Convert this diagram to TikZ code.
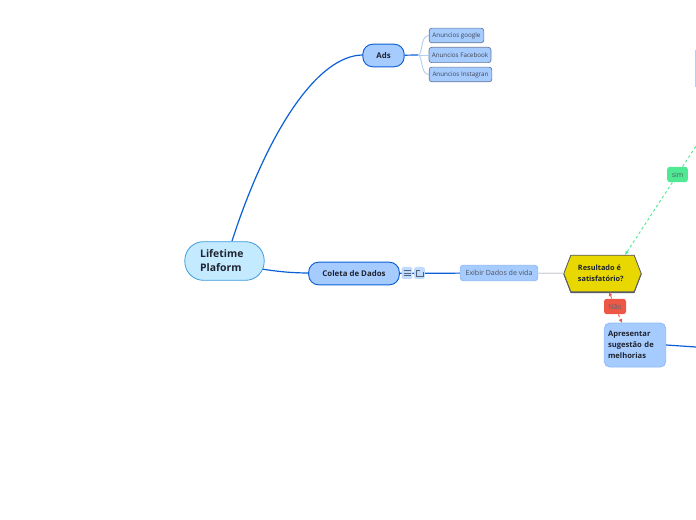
\documentclass[tikz,border=0pt]{standalone}
\usepackage{fontspec}
\setmainfont{Open Sans}
\usepackage{xcolor}
\usetikzlibrary{arrows.meta,shapes.symbols,shadows}
\definecolor{rootfill}{HTML}{C4EAFF}
\definecolor{rootline}{HTML}{3D9BDC}
\definecolor{topicfill}{HTML}{A6CBFF}
\definecolor{topicline}{HTML}{0A5FD6}
\definecolor{softline}{HTML}{8DB9F7}
\definecolor{leafline}{HTML}{66799B}
\definecolor{twig}{HTML}{B5CDF2}
\definecolor{grayline}{HTML}{D4D6D9}
\definecolor{yes}{HTML}{4FE893}
\definecolor{nope}{HTML}{EC5746}
\definecolor{quest}{HTML}{E8D800}
\definecolor{ink}{HTML}{1F2430}
\tikzset{
  rootbox/.style={draw=rootline, fill=rootfill, line width=0.6pt, rounded corners=14pt, text=ink, font=\bfseries\fontsize{7.8}{10.6}\selectfont, align=left, inner xsep=11.5pt, inner ysep=0pt, text width=36.5pt},
  topic/.style={draw=topicline, fill=topicfill, line width=0.7pt, rounded corners=7.5pt, text=ink, font=\bfseries\fontsize{5.9}{8}\selectfont, inner sep=0pt},
  leaf/.style={draw=leafline, fill=topicfill, line width=0.5pt, rounded corners=2pt, text=ink!85, font=\fontsize{4.7}{6}\selectfont, inner sep=0pt},
  linkbox/.style={draw=softline, fill=topicfill, line width=0.6pt, rounded corners=2pt, text=ink!80, font=\fontsize{5.3}{7}\selectfont, inner sep=0pt},
  ask/.style={shape=signal, signal to=east and west, signal pointer angle=138, draw=ink!75, fill=quest, line width=0.6pt, text=ink, font=\bfseries\fontsize{5.5}{8}\selectfont, align=left, inner sep=0pt, copy shadow={shadow xshift=0pt, shadow yshift=-0.6pt, draw=ink!75, fill=ink!75}},
  tag/.style={rounded corners=2pt, font=\fontsize{5.2}{6}\selectfont, inner sep=0pt},
  iconbox/.style={fill=topicfill!70, rounded corners=1.5pt, minimum width=8pt, minimum height=9pt, inner sep=0pt},
  bluelink/.style={draw=topicline, line width=0.9pt},
  twiglink/.style={draw=twig, line width=0.7pt},
  yeslink/.style={draw=yes, line width=0.7pt, dash pattern=on 2pt off 2pt},
  nolink/.style={draw=nope, line width=0.7pt, dash pattern=on 2pt off 2pt},
  glyph/.style={draw=leafline!80!black, line width=0.5pt}
}
\begin{document}
\begin{tikzpicture}[x=0.75pt,y=-0.75pt]
  \useasboundingbox (0,0) rectangle (696,520);

  % links first, boxes go on top
  \coordinate (rootN) at (232,241);
  \coordinate (rootE) at (262,269);
  \coordinate (adsW) at (363,55);
  \coordinate (fork) at (418,55);
  \coordinate (edgeY) at (696,146);
  \coordinate (edgeB) at (696,347);
  \coordinate (edgeT) at (695,50);
  \coordinate (edgeU) at (695,87);
  \coordinate (askNE) at (625,255);
  \coordinate (askS) at (609,292);
  \coordinate (melN) at (622,323);

  \draw[bluelink] (rootN) .. controls (268,130) and (318,55) .. (adsW);
  \draw[bluelink] (rootE) .. controls (280,272) and (295,273) .. (309,273);
  \draw[twiglink] (edgeT) -- (edgeU);

  % central nodes
  \node[rootbox, minimum height=29pt] (root) at (224.5,261) {Lifetime\\Plaform};
  \node[topic, minimum width=31pt, minimum height=17pt] (ads) at (383.5,55.5) {Ads};
  \node[topic, minimum width=68pt, minimum height=17pt] (coleta) at (354,273.5) {Coleta de Dados};

  % ads children
  \node[leaf, minimum width=41pt, minimum height=11pt] (google) at (456.5,35.5) {Anuncios google};
  \node[leaf, minimum width=46.5pt, minimum height=11.5pt] (facebook) at (460,55) {Anuncios Facebook};
  \node[leaf, minimum width=47pt, minimum height=11pt] (instagram) at (460.5,74.5) {Anuncios Instagran};

  \draw[bluelink] (ads) -- (fork);
  \draw[twiglink] (fork) .. controls (423,55) and (420,35.5) .. (google.west);
  \draw[twiglink] (fork) -- (facebook.west);
  \draw[twiglink] (fork) .. controls (423,55) and (420,74.5) .. (instagram.west);

  % data row
  \node[linkbox, minimum width=58pt, minimum height=11.5pt] (exibir) at (499,273) {Exibir Dados de vida};
  \node[ask, minimum width=58pt, minimum height=27.5pt] (result) at (602.5,273.5) {Resultado é\\satisfatório?\hspace*{2.5pt}};
  \draw[bluelink] (coleta) -- (exibir);
  \draw[draw=grayline, line width=0.9pt] (exibir) -- (result);

  \node[iconbox] (menu) at (407,273) {};
  \node[iconbox] (open) at (419.5,273) {};
  \draw[glyph] (403.5,270.5) -- (410.5,270.5) (403.5,273) -- (410.5,273) (403.5,275.5) -- (410.5,275.5);
  \draw[glyph] (420,270) -- (416.5,270) -- (416.5,276.5) -- (423,276.5) -- (423,272.5);

  % answers
  \node[topic, rounded corners=4pt, draw=softline, line width=0.6pt, minimum height=33pt, align=left, inner xsep=2.75pt, text width=40.5pt, font=\bfseries\fontsize{5.7}{8.1}\selectfont] (melhorias) at (635,345) {Apresentar\\sugestão de\\melhorias};
  \node[tag, fill=nope, text=ink!70, minimum width=16.5pt, minimum height=11.5pt] (nao) at (615,306.5) {Não};
  \node[tag, fill=yes, text=ink!75, minimum width=15.5pt, minimum height=11.5pt] (sim) at (677.5,174.5) {sim};

  \draw[bluelink] (melhorias.east) -- (edgeB);
  \draw[nolink, -{Latex[length=3pt,width=3pt]}] (nao) -- (askS);
  \draw[nolink, -{Latex[length=3pt,width=3pt]}] (nao) -- (melN);
  \draw[yeslink, -{Latex[length=3pt,width=3pt]}] (sim) -- (askNE);
  \draw[yeslink] (sim) -- (edgeY);
\end{tikzpicture}
\end{document}
